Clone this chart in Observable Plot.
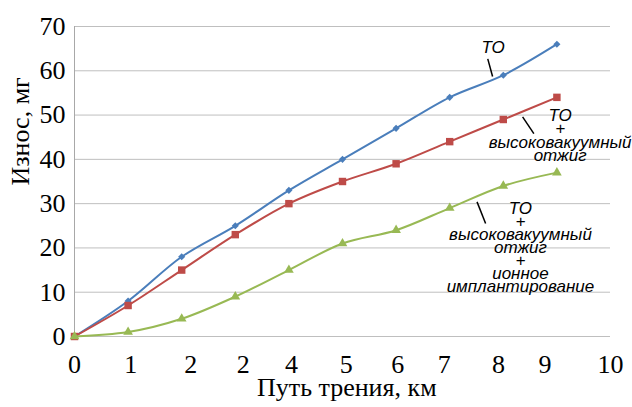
<!DOCTYPE html>
<html>
<head>
<meta charset="utf-8">
<script src="https://cdn.jsdelivr.net/npm/d3@7"></script>
<script src="https://cdn.jsdelivr.net/npm/@observablehq/plot@0.6"></script>
<style>
  html, body { margin: 0; padding: 0; background: #fff; }
  svg { display: block; }
</style>
</head>
<body>
<div id="chart"></div>
<script>
// Distance (km)
const distance = [0, 1, 2, 3, 4, 5, 6, 7, 8, 9];
// Wear (mg)
const wearTO = [0, 8, 18, 25, 33, 40, 47, 54, 59, 66];
const wearTOAnneal = [0, 7, 15, 23, 30, 35, 39, 44, 49, 54];
const wearTOAnnealImplant = [0, 1, 4, 9, 15, 21, 24, 29, 34, 37];

// x tick labels as printed in the original
const xTickLabels = ["0", "1", "2", "2", "4", "5", "6", "7", "8", "9", "10"];
const xTickValues = [0, 1.05, 2.17, 3.15, 4.05, 5.07, 6.03, 6.9, 7.91, 8.78, 10];
const yTicks = [0, 10, 20, 30, 40, 50, 60, 70];

const seriesNames = [
  "ТО",
  "ТО\n+\nвысоковакуумный\nотжиг",
  "ТО\n+\nвысоковакуумный\nотжиг\n+\nионное\nимплантирование"
];
const seriesValues = [wearTO, wearTOAnneal, wearTOAnnealImplant];
const colors = ["#4A7EBB", "#BE4B48", "#98B954"];
const symbols = ["diamond2", "square", "triangle"];
const sizes = [3.2, 4.2, 3.6];

const rows = [];
seriesValues.forEach((vals, s) => {
  vals.forEach((v, i) => rows.push({ s, x: distance[i], y: v }));
});

// label anchors (data coordinates)
const labels = [
  { s: 0, x: 7.81, y: 64.9, x1: 7.71, y1: 62.7, x2: 7.80, y2: 58.7 },
  { s: 1, x: 9.06, y: 45.1, x1: 8.36, y1: 49.6, x2: 8.57, y2: 45.8 },
  { s: 2, x: 8.32, y: 19.85, x1: 7.51, y1: 30.4, x2: 7.67, y2: 25.5 }
];

const marks = [
  Plot.gridY(yTicks, { stroke: "#bfbfbf", strokeOpacity: 1, strokeWidth: 1 }),
  Plot.ruleX([0], { stroke: "#a8a8a8", strokeWidth: 1 }),
  Plot.axisY(yTicks, {
    tickSize: 0, tickPadding: 9, fontSize: 26, fill: "#000",
    fontFamily: "Liberation Serif", label: null
  }),
  Plot.text(xTickLabels, {
    x: (d, i) => xTickValues[i], y: 0, text: d => d,
    dy: 28, fontSize: 26, fontFamily: "Liberation Serif", fill: "#000"
  })
];

seriesValues.forEach((vals, s) => {
  const data = rows.filter(r => r.s === s);
  marks.push(Plot.line(data, {
    x: "x", y: "y", stroke: colors[s], strokeWidth: 2, curve: "catmull-rom"
  }));
  marks.push(Plot.dot(data, {
    x: "x", y: "y", fill: colors[s], stroke: "none", symbol: () => symbols[s], r: sizes[s]
  }));
});

marks.push(
  Plot.link(labels, { x1: "x1", y1: "y1", x2: "x2", y2: "y2", stroke: "#000", strokeWidth: 1.5 }),
  Plot.text(labels, {
    x: "x", y: "y", text: d => seriesNames[d.s],
    fontSize: 17, fontStyle: "italic", fontFamily: "Liberation Sans",
    lineHeight: 0.77, fill: "#000"
  }),
  Plot.text(["Износ, мг"], {
    frameAnchor: "left", y: 34.1, text: d => d, rotate: -90, dx: -54,
    fontSize: 26, fontFamily: "Liberation Serif", fill: "#000"
  }),
  Plot.text(["Путь трения, км"], {
    x: 5.08, frameAnchor: "bottom", text: d => d, dy: 59,
    fontSize: 26, fontFamily: "Liberation Serif", fill: "#000"
  })
);

const chart = Plot.plot({
  width: 632,
  height: 407,
  marginLeft: 74,
  marginRight: 22,
  marginTop: 26,
  marginBottom: 71,
  x: { domain: [0, 10], axis: null },
  y: { domain: [0, 70], axis: null },
  style: { background: "#fff", overflow: "visible" },
  marks
});
document.getElementById("chart").appendChild(chart);
</script>
</body>
</html>
